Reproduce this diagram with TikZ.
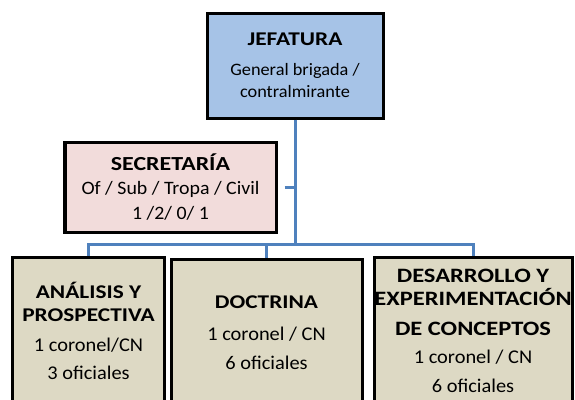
\documentclass[tikz,border=0pt]{standalone}
\usepackage{fontspec}
\setmainfont{Carlito}[UprightFeatures={FakeStretch=1.05},BoldFeatures={FakeStretch=1.2}]
\usepackage{xcolor}
\definecolor{jefblue}{HTML}{A6C3E7}
\definecolor{secpink}{HTML}{F2DCDB}
\definecolor{unitbeige}{HTML}{DDD9C4}
\definecolor{linkblue}{HTML}{4F81BD}
\newcommand{\boxtitle}[2]{{\fontsize{#1}{23}\selectfont\bfseries #2}}

\begin{document}
\begin{tikzpicture}[x=1bp,y=-1bp,
  box/.style={draw=black,line width=3bp,align=center,inner sep=0pt},
  jefbox/.style={box,fill=jefblue,minimum width=176bp,minimum height=105bp,
    font=\fontsize{17.5}{22}\selectfont},
  secbox/.style={box,fill=secpink,minimum width=211bp,minimum height=90bp,
    font=\fontsize{19}{25}\selectfont},
  unitbox/.style={box,fill=unitbeige,minimum height=148bp,
    font=\fontsize{19.5}{23}\selectfont},
  link/.style={draw=linkblue,line width=3bp}]
\useasboundingbox (0,0) rectangle (575,399);
\clip (0,0) rectangle (575,399);
\node[jefbox] (jef) at (295,65.5) {\boxtitle{19.5}{JEFATURA}\\[8bp] General brigada /\\ contralmirante};
\node[secbox] (sec) at (170.5,187) {\boxtitle{20}{SECRETARÍA}\\ Of / Sub / Tropa / Civil\\ 1 /2/ 0/ 1};
\node[unitbox,minimum width=151bp] (ana) at (88.5,331)
  {\boxtitle{19.5}{ANÁLISIS Y}\\ \boxtitle{19.5}{PROSPECTIVA}\\[7bp] 1 coronel/CN\\[6bp] 3 oficiales};
\node[unitbox,minimum width=191bp] (doc) at (266.5,333)
  {\boxtitle{19.5}{DOCTRINA}\\[9bp] 1 coronel / CN\\[6bp] 6 oficiales};
\node[unitbox,minimum width=198bp] (des) at (473,331)
  {\boxtitle{20.5}{DESARROLLO Y}\\ \boxtitle{20.5}{EXPERIMENTACIÓN}\\[7bp] \boxtitle{20.5}{DE CONCEPTOS}\\[5bp] 1 coronel / CN\\[6bp] 6 oficiales};
\coordinate (bus) at (295,244);
\draw[link] (jef.south) -- (bus);
\draw[link] (ana.north) |- (bus) -| (des.north);
\draw[link] (doc.north) -- (doc.north |- bus);
\draw[link,shorten <=7bp] (sec.east) -- (sec.east -| jef.south);
\end{tikzpicture}
\end{document}
